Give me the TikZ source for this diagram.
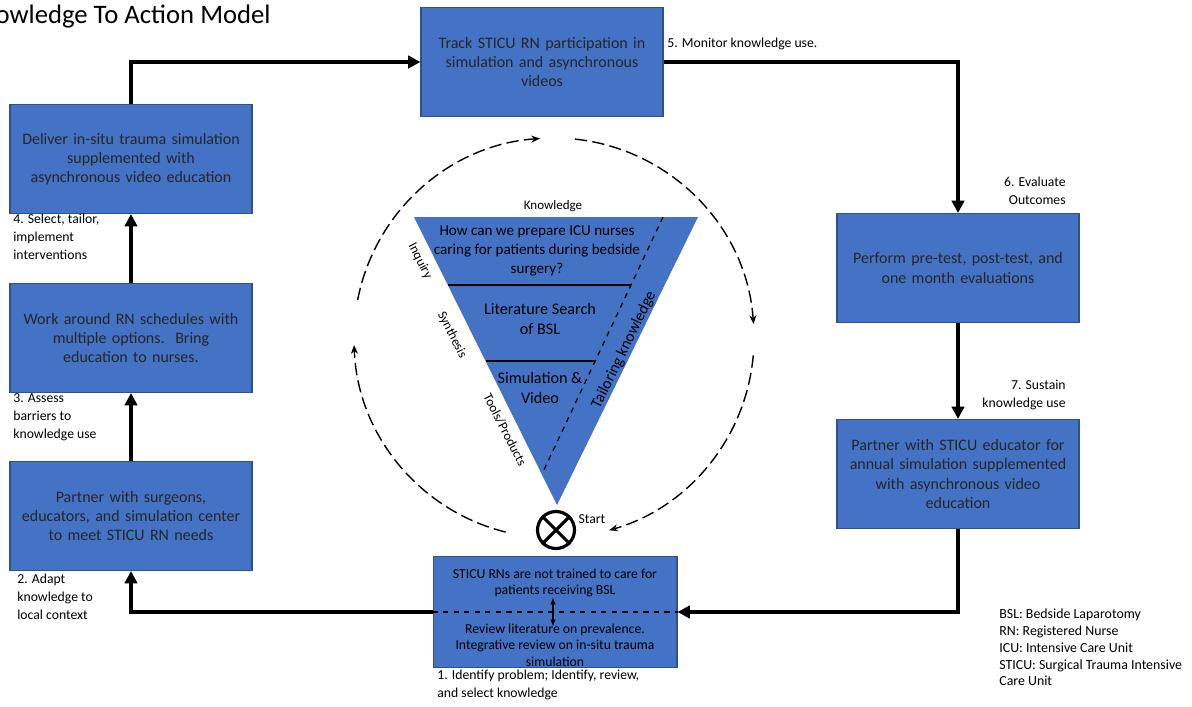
\documentclass[tikz,border=0pt]{standalone}
\usepackage{fontspec}
\setmainfont{Carlito}
\usetikzlibrary{arrows.meta, positioning, calc}
\definecolor{boxblue}{HTML}{4472C4}
\definecolor{boxedge}{HTML}{2F528F}

\begin{document}
\begin{tikzpicture}[x=0.02cm, y=-0.02cm,
  stepbox/.style={draw=boxedge, fill=boxblue, text=black!85, line width=0.6pt,
    minimum width=4.84cm, minimum height=2.18cm, text width=4.7cm, align=center,
    font=\fontsize{9.1}{10.9}\selectfont, inner sep=2pt},
  conn/.style={line width=2.3pt, -{Triangle[length=7pt,width=7pt]}},
  lbl/.style={inner sep=0pt, font=\fontsize{7.8}{10.2}\selectfont},
  tri/.style={inner sep=0pt, align=center, font=\fontsize{8.6}{10.8}\selectfont},
  side/.style={inner sep=0pt, font=\fontsize{7.5}{8}\selectfont},
  cyc/.style={line width=0.8pt, dash pattern=on 7pt off 3pt, -{Stealth[length=5pt,width=4pt]}}]
\useasboundingbox (0,0) rectangle (1192,706);

% title
\node[inner sep=0pt, anchor=east, font=\fontsize{15.2}{17}\selectfont] (title) at (271,17) {Knowledge To Action Model};

% the seven steps
\node[stepbox] (track) at (542,62) {Track STICU RN participation in\\simulation and asynchronous\\videos};
\node[stepbox] (deliver) at (131,159) {Deliver in-situ trauma simulation\\supplemented with\\asynchronous video education};
\node[stepbox] (work) at (131,338) {Work around RN schedules with\\multiple options.\ \ Bring\\education to nurses.};
\node[stepbox] (partner) at (131,516) {Partner with surgeons,\\educators, and simulation center\\to meet STICU RN needs};
\node[stepbox] (perform) at (958,268) {Perform pre-test, post-test, and\\one month evaluations};
\node[stepbox] (sustain) at (958,474) {Partner with STICU educator for\\annual simulation supplemented\\with asynchronous video\\education};
\node[stepbox, minimum width=4.88cm, minimum height=2.22cm] (problem) at (555,612) {};
\node[tri, font=\fontsize{7.8}{9.4}\selectfont] (probtop) at (555,583) {STICU RNs are not trained to care for\\patients receiving BSL};
\node[tri, font=\fontsize{7.8}{9.4}\selectfont] (probbot) at (555,645) {Review literature on prevalence.\\Integrative review on in-situ trauma\\simulation};
\draw[dashed, line width=0.7pt] (problem.west) -- (problem.east);
\coordinate (ua) at (553,598);
\coordinate (ub) at (553,626);
\draw[line width=0.8pt, {Stealth[length=4pt]}-{Stealth[length=4pt]}] (ua) -- (ub);

% cycle connectors
\draw[conn] (deliver.north) |- (track.west);
\draw[conn] (track.east) -| (perform.north);
\draw[conn] (perform.south) -- (sustain.north);
\draw[conn] (sustain.south) |- (problem.east);
\draw[conn] (problem.west) -| (partner.south);
\draw[conn] (partner.north) -- (work.south);
\draw[conn] (work.north) -- (deliver.south);

% step labels
\node[lbl, anchor=west] (l5) at (667,44) {5. Monitor knowledge use.};
\node[lbl, anchor=north east, align=right] (l6) at (1066,177) {6. Evaluate\\Outcomes};
\node[lbl, anchor=north east, align=right] (l7) at (1066,380) {7. Sustain\\knowledge use};
\node[lbl, anchor=north west, align=left] (l4) at (13,214) {4. Select, tailor,\\implement\\interventions};
\node[lbl, anchor=north west, align=left] (l3) at (13,393) {3. Assess\\barriers to\\knowledge use};
\node[lbl, anchor=north west, align=left] (l2) at (17,574) {2. Adapt\\knowledge to\\local context};
\node[lbl, anchor=north west, align=left] (l1) at (437,670) {1. Identify problem; Identify, review,\\and select knowledge};
\node[lbl, anchor=north west, align=left, font=\fontsize{7.9}{9.5}\selectfont] (legend) at (999,609)
  {BSL: Bedside Laparotomy\\RN: Registered Nurse\\ICU: Intensive Care Unit\\STICU: Surgical Trauma Intensive\\Care Unit};

% funnel
\coordinate (ftl) at (414,217);
\coordinate (ftr) at (698,217);
\coordinate (fbot) at (557,505);
\fill[boxblue] (ftl) -- (ftr) -- (fbot) -- cycle;
\coordinate (d1a) at (448,285);
\coordinate (d1b) at (631,285);
\coordinate (d2a) at (486,361);
\coordinate (d2b) at (595,361);
\draw[line width=0.8pt] (d1a) -- (d1b);
\draw[line width=0.8pt] (d2a) -- (d2b);
\coordinate (ta) at (663,217);
\coordinate (tb) at (542,474);
\draw[dashed, line width=0.7pt] (ta) -- (tb);
\node[tri] (quest) at (537,251) {How can we prepare ICU nurses\\caring for patients during bedside\\surgery?};
\node[tri, font=\fontsize{9.2}{11}\selectfont] (lit) at (540,319) {Literature Search\\of BSL};
\node[tri, font=\fontsize{9.2}{11}\selectfont] (sim) at (540,388) {Simulation \&\\Video};
\node[lbl, font=\fontsize{7.4}{9}\selectfont] (know) at (553,206) {Knowledge};
\node[side, font=\fontsize{9}{10}\selectfont, rotate=64] (tailor) at (624,350) {Tailoring knowledge};
\node[side, rotate=-63] (inq) at (420,261) {Inquiry};
\node[side, rotate=-63] (syn) at (452,335) {Synthesis};
\node[side, rotate=-63] (tools) at (505,430) {Tools/Products};

% start symbol
\node[draw, circle, line width=1.8pt, minimum size=0.74cm, inner sep=0pt] (start) at (556,530) {};
\draw[line width=1.8pt] (start.north west) -- (start.south east);
\draw[line width=1.8pt] (start.north east) -- (start.south west);
\node[lbl] (startlbl) at (592,519) {Start};

% dashed cycle round the funnel
\coordinate (ctr) at (554,338);
\draw[cyc] ($(ctr)+(191:200)$) arc[start angle=191, end angle=266, radius=200];
\draw[cyc] ($(ctr)+(276:200)$) arc[start angle=276, end angle=356, radius=200];
\draw[cyc] ($(ctr)+(5:200)$) arc[start angle=5, end angle=74, radius=200];
\draw[cyc] ($(ctr)+(104:200)$) arc[start angle=104, end angle=178, radius=200];
\end{tikzpicture}
\end{document}
